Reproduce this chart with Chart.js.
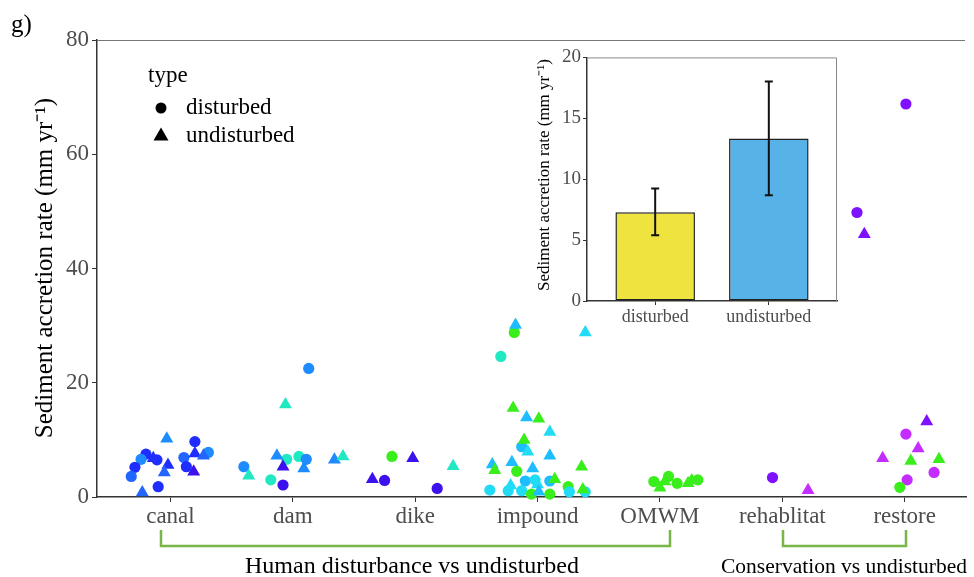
<!DOCTYPE html>
<html lang="en">
<head>
<meta charset="UTF-8">
<title>Sediment accretion rate</title>
<script src="https://cdn.jsdelivr.net/npm/chart.js"></script>
<style>
  body { margin: 0; background: #fff; }
  #wrap { position: relative; width: 974px; height: 577px; }
  #mainChart { position: absolute; left: 0; top: 0; }
  #insetChart { position: absolute; left: 515px; top: 44px; }
</style>
</head>
<body>
<div id="wrap">
  <canvas id="mainChart" width="974" height="577"></canvas>
  <canvas id="insetChart" width="330" height="290"></canvas>
</div>

<script>
  // categories on the main x axis
  const categories = ['canal', 'dam', 'dike', 'impound', 'OMWM', 'rehablitat', 'restore'];
  const yTicks = [0, 20, 40, 60, 80];

  // points: [jitter (in category units), rate, type d/u, tone]
  const canal = [
    [-0.03, 10.2, 'u', 'dodger'], [0.20, 9.7, 'd', 'blue'], [0.31, 7.8, 'd', 'dodger'],
    [0.11, 6.9, 'd', 'royal'], [0.20, 7.6, 'u', 'blue'], [0.27, 7.2, 'u', 'royal'],
    [0.13, 5.3, 'd', 'blue'], [0.19, 4.4, 'u', 'indigo'], [-0.20, 7.5, 'd', 'blue'],
    [-0.24, 6.6, 'd', 'dodger'], [-0.14, 6.8, 'u', 'blue'], [-0.11, 6.5, 'd', 'blue'],
    [-0.29, 5.2, 'd', 'blue'], [-0.32, 3.6, 'd', 'royal'], [-0.02, 5.6, 'u', 'blue'],
    [-0.05, 4.3, 'u', 'royal'], [-0.10, 1.8, 'd', 'blue'], [-0.23, 0.8, 'u', 'royal']
  ];
  const dam = [
    [0.13, 22.5, 'd', 'dodger'], [-0.06, 16.2, 'u', 'aqua'], [-0.13, 7.2, 'u', 'dodger'],
    [-0.05, 6.6, 'd', 'aqua'], [0.05, 7.1, 'd', 'aqua'], [0.11, 6.6, 'd', 'dodger'],
    [0.09, 5.0, 'u', 'dodger'], [-0.08, 5.3, 'u', 'indigo'], [-0.40, 5.3, 'd', 'dodger'],
    [-0.36, 3.7, 'u', 'aqua'], [-0.18, 3.0, 'd', 'aqua'], [-0.08, 2.1, 'd', 'indigo'],
    [0.34, 6.5, 'u', 'dodger'], [0.41, 7.1, 'u', 'aqua']
  ];
  const dike = [
    [-0.19, 7.1, 'd', 'green'], [-0.02, 6.8, 'u', 'indigo'], [-0.35, 3.1, 'u', 'indigo'],
    [-0.25, 2.9, 'd', 'indigo'], [0.18, 1.5, 'd', 'indigo'], [0.31, 5.4, 'u', 'aqua']
  ];
  const impound = [
    [-0.18, 30.1, 'u', 'sky'], [-0.19, 28.8, 'd', 'green'], [0.39, 28.8, 'u', 'cyan'],
    [-0.30, 24.6, 'd', 'aqua'], [-0.20, 15.6, 'u', 'green'], [-0.09, 13.9, 'u', 'sky'],
    [0.01, 13.7, 'u', 'green'], [0.10, 11.4, 'u', 'cyan'], [-0.11, 10.0, 'u', 'green'],
    [-0.13, 8.8, 'd', 'sky'], [-0.08, 7.9, 'u', 'cyan'], [0.10, 7.2, 'u', 'sky'],
    [-0.37, 5.7, 'u', 'sky'], [-0.35, 4.7, 'u', 'green'], [-0.21, 6.1, 'u', 'sky'],
    [-0.17, 4.5, 'd', 'green'], [-0.04, 5.0, 'u', 'sky'], [0.36, 5.3, 'u', 'green'],
    [-0.10, 2.8, 'd', 'sky'], [-0.02, 3.0, 'd', 'cyan'], [0.10, 2.8, 'd', 'sky'],
    [0.14, 3.1, 'u', 'green'], [-0.39, 1.2, 'd', 'cyan'], [-0.22, 2.0, 'u', 'cyan'],
    [-0.24, 1.1, 'd', 'cyan'], [-0.13, 1.1, 'd', 'cyan'], [0.00, 2.2, 'u', 'cyan'],
    [-0.05, 0.5, 'd', 'green'], [0.01, 0.9, 'u', 'sky'], [0.10, 0.5, 'd', 'green'],
    [0.25, 1.8, 'd', 'green'], [0.26, 0.9, 'd', 'cyan'], [0.39, 0.9, 'd', 'cyan'],
    [0.37, 1.3, 'u', 'green']
  ];
  const omwm = [
    [-0.05, 2.7, 'd', 'green'], [0.07, 3.6, 'd', 'green'], [0.00, 1.6, 'u', 'green'],
    [0.04, 2.7, 'u', 'green'], [0.14, 2.4, 'd', 'green'], [0.23, 2.4, 'u', 'green'],
    [0.31, 3.0, 'd', 'green'], [0.26, 2.9, 'u', 'green']
  ];
  const rehablitat = [
    [-0.08, 3.4, 'd', 'violet'], [0.21, 1.2, 'u', 'magenta']
  ];
  const restore = [
    [0.01, 68.8, 'd', 'violet'], [-0.39, 49.8, 'd', 'violet'], [-0.33, 46.0, 'u', 'violet'],
    [0.18, 13.2, 'u', 'violet'], [0.01, 11.0, 'd', 'magenta'], [0.11, 8.5, 'u', 'magenta'],
    [-0.18, 6.8, 'u', 'magenta'], [0.05, 6.3, 'u', 'green'], [0.28, 6.6, 'u', 'green'],
    [0.24, 4.3, 'd', 'magenta'], [0.02, 3.0, 'd', 'magenta'], [-0.04, 1.7, 'd', 'green']
  ];
  const groups = [canal, dam, dike, impound, omwm, rehablitat, restore];

  // inset bar chart
  const insetLabels = ['disturbed', 'undisturbed'];
  const insetMeans = [7.29, 13.34];
  const insetLow = [5.4, 8.69];
  const insetHigh = [9.23, 18.03];
  const insetTicks = [0, 5, 10, 15, 20];

  const tones = {
    blue: '#1f2dff', royal: '#2266ff', dodger: '#1e8cff', indigo: '#3d10ee',
    aqua: '#1fe8c2', cyan: '#22dcf5', sky: '#1ebdff', green: '#3aee1c',
    violet: '#7e12ff', magenta: '#c52cff'
  };

  const serif = 'Liberation Serif';
  const axisGray = '#4d4d4d';
  const yTitle = 'Sediment accretion rate (mm yr\u207B\u00B9)';

  function pointsOf(type) {
    const pts = [], cols = [];
    groups.forEach((g, i) => {
      g.forEach(p => {
        if (p[2] !== type) return;
        pts.push({ x: i + 1 + p[0], y: p[1] });
        cols.push(tones[p[3]]);
      });
    });
    return { pts, cols };
  }
  const circ = pointsOf('d');
  const tri = pointsOf('u');

  const mainDecor = {
    id: 'mainDecor',
    afterDraw(chart) {
      const { ctx, chartArea: a } = chart;
      ctx.save();
      // top border
      ctx.strokeStyle = '#777';
      ctx.lineWidth = 1;
      ctx.beginPath();
      ctx.moveTo(a.left, a.top + 0.5);
      ctx.lineTo(965, a.top + 0.5);
      ctx.stroke();

      ctx.fillStyle = '#000';
      ctx.textBaseline = 'middle';
      ctx.font = '25px "' + serif + '"';
      ctx.textAlign = 'left';
      ctx.fillText('g)', 11, 25);

      // legend
      ctx.font = '23px "' + serif + '"';
      ctx.fillText('type', 148, 76);
      ctx.fillText('disturbed', 186, 108);
      ctx.fillText('undisturbed', 186, 136);
      ctx.beginPath();
      ctx.arc(161, 108, 5.5, 0, Math.PI * 2);
      ctx.fill();
      ctx.beginPath();
      ctx.moveTo(161, 127.5);
      ctx.lineTo(168.5, 140.5);
      ctx.lineTo(153.5, 140.5);
      ctx.closePath();
      ctx.fill();

      // y title
      ctx.save();
      ctx.translate(45, 268);
      ctx.rotate(-Math.PI / 2);
      ctx.textAlign = 'center';
      ctx.font = '25px "' + serif + '"';
      ctx.fillText(yTitle, 0, 0);
      ctx.restore();

      // group brackets
      ctx.strokeStyle = '#79b547';
      ctx.lineWidth = 2.5;
      [[161, 670], [783, 906]].forEach(([l, r]) => {
        ctx.beginPath();
        ctx.moveTo(l, 530);
        ctx.lineTo(l, 546);
        ctx.lineTo(r, 546);
        ctx.lineTo(r, 530);
        ctx.stroke();
      });
      ctx.textAlign = 'center';
      ctx.font = '24px "' + serif + '"';
      ctx.fillText('Human disturbance vs undisturbed', 412, 567);
      ctx.font = '21.5px "' + serif + '"';
      ctx.fillText('Conservation vs undisturbed', 844, 567);
      ctx.restore();
    }
  };

  new Chart(document.getElementById('mainChart'), {
    type: 'scatter',
    data: {
      datasets: [
        {
          label: 'undisturbed',
          data: tri.pts,
          pointStyle: 'triangle',
          pointRadius: 7.5,
          pointBackgroundColor: tri.cols,
          pointBorderWidth: 0,
          clip: false
        },
        {
          label: 'disturbed',
          data: circ.pts,
          pointStyle: 'circle',
          pointRadius: 5.6,
          pointBackgroundColor: circ.cols,
          pointBorderWidth: 0,
          clip: false
        }
      ]
    },
    options: {
      responsive: false,
      animation: false,
      layout: { padding: { top: 40, left: 0, right: 0, bottom: 0 } },
      plugins: { legend: { display: false }, tooltip: { enabled: false } },
      scales: {
        x: {
          type: 'linear',
          min: 0.4,
          max: 7.505,
          afterBuildTicks: s => { s.ticks = categories.map((c, i) => ({ value: i + 1 })); },
          afterFit: s => { s.height = 80; },
          ticks: {
            callback: v => categories[v - 1],
            color: axisGray,
            font: { family: serif, size: 23 },
            padding: 1,
            autoSkip: false,
            maxRotation: 0
          },
          grid: { drawOnChartArea: false, tickLength: 5, color: '#333' },
          border: { color: '#333', width: 1.5 }
        },
        y: {
          min: 0,
          max: 80,
          afterBuildTicks: s => { s.ticks = yTicks.map(v => ({ value: v })); },
          afterFit: s => { s.width = 97; },
          ticks: { color: axisGray, font: { family: serif, size: 23 }, padding: 3 },
          grid: { drawOnChartArea: false, tickLength: 5, color: '#333' },
          border: { color: '#333', width: 1.5 }
        }
      }
    },
    plugins: [mainDecor]
  });

  const insetDecor = {
    id: 'insetDecor',
    beforeDraw(chart) {
      const { ctx, chartArea: a } = chart;
      ctx.save();
      ctx.fillStyle = '#fff';
      ctx.fillRect(a.left, a.top, a.right - a.left, a.bottom - a.top);
      ctx.restore();
    },
    afterDatasetsDraw(chart) {
      const { ctx, scales: { x, y } } = chart;
      ctx.save();
      ctx.strokeStyle = '#111';
      ctx.lineWidth = 2;
      insetMeans.forEach((m, i) => {
        const px = x.getPixelForValue(i + 1);
        const top = y.getPixelForValue(insetHigh[i]);
        const bot = y.getPixelForValue(insetLow[i]);
        ctx.beginPath();
        ctx.moveTo(px, top);
        ctx.lineTo(px, bot);
        ctx.moveTo(px - 4, top);
        ctx.lineTo(px + 4, top);
        ctx.moveTo(px - 4, bot);
        ctx.lineTo(px + 4, bot);
        ctx.stroke();
      });
      ctx.restore();
    },
    afterDraw(chart) {
      const { ctx, chartArea: a } = chart;
      ctx.save();
      ctx.strokeStyle = '#8a8a8a';
      ctx.lineWidth = 1;
      ctx.beginPath();
      ctx.moveTo(a.left, a.top + 0.5);
      ctx.lineTo(a.right - 0.5, a.top + 0.5);
      ctx.lineTo(a.right - 0.5, a.bottom);
      ctx.stroke();

      ctx.translate(30, 131);
      ctx.rotate(-Math.PI / 2);
      ctx.fillStyle = '#000';
      ctx.textAlign = 'center';
      ctx.textBaseline = 'middle';
      ctx.font = '17px "' + serif + '"';
      ctx.fillText(yTitle, 0, 0);
      ctx.restore();
    }
  };

  new Chart(document.getElementById('insetChart'), {
    type: 'bar',
    data: {
      datasets: [{
        data: insetMeans.map((v, i) => ({ x: i + 1, y: v })),
        backgroundColor: ['#efe33f', '#56b2e7'],
        borderColor: '#222',
        borderWidth: 1.5,
        borderSkipped: false,
        categoryPercentage: 0.7,
        barPercentage: 1
      }]
    },
    options: {
      responsive: false,
      animation: false,
      layout: { padding: { top: 10, right: 8, left: 0, bottom: 0 } },
      plugins: { legend: { display: false }, tooltip: { enabled: false } },
      scales: {
        x: {
          type: 'linear',
          min: 0.4,
          max: 2.6,
          offset: false,
          afterBuildTicks: s => { s.ticks = insetLabels.map((c, i) => ({ value: i + 1 })); },
          afterFit: s => { s.height = 33; },
          ticks: {
            callback: v => insetLabels[v - 1],
            color: axisGray,
            font: { family: serif, size: 18 },
            padding: 1,
            autoSkip: false,
            maxRotation: 0
          },
          grid: { offset: false, drawOnChartArea: false, tickLength: 4, color: '#333' },
          border: { color: '#333', width: 1.5 }
        },
        y: {
          min: 0,
          max: 20,
          afterBuildTicks: s => { s.ticks = insetTicks.map(v => ({ value: v })); },
          afterFit: s => { s.width = 72; },
          ticks: { color: axisGray, font: { family: serif, size: 19 }, padding: 2 },
          grid: { drawOnChartArea: false, tickLength: 4, color: '#333' },
          border: { color: '#333', width: 1.5 }
        }
      }
    },
    plugins: [insetDecor]
  });
</script>
</body>
</html>
